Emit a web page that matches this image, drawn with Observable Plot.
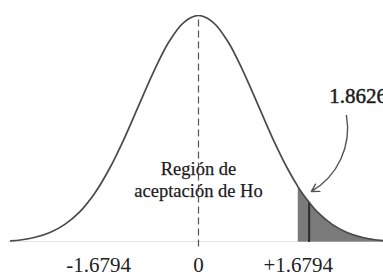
<!DOCTYPE html>
<html><head><meta charset="utf-8">
<script src="https://cdn.jsdelivr.net/npm/d3@7"></script>
<script src="https://cdn.jsdelivr.net/npm/@observablehq/plot@0.6"></script>
<style>body{margin:0;background:#fff}</style>
</head><body><div id="chart"></div>
<script>
// curve points (x in t units, relative height)
const curveX = [-3.16, -3.0, -2.75, -2.5, -2.25, -2.0, -1.75, -1.5, -1.25, -1.0, -0.75, -0.5, -0.25, 0, 0.25, 0.5, 0.75, 1.0, 1.25, 1.5, 1.6794, 1.75, 1.8626, 2.0, 2.25, 2.5, 2.75, 3.0, 3.25];
const curveY = [0.007, 0.011, 0.023, 0.044, 0.080, 0.135, 0.216, 0.325, 0.458, 0.607, 0.755, 0.883, 0.969, 1.0, 0.969, 0.883, 0.755, 0.607, 0.458, 0.325, 0.244, 0.216, 0.177, 0.135, 0.080, 0.044, 0.023, 0.011, 0.005];
const critical = 1.6794;
const statistic = 1.8626;
const tickValues = [-1.6794, 0, 1.6794];
const tickLabels = ["-1.6794", "0", "+1.6794"];
const regionLabel = "Región de\naceptación de Ho";
const statLabel = "1.8626";

const pts = curveX.map((x, i) => ({x, y: curveY[i]}));
const tail = pts.filter(d => d.x >= critical);
const statY = curveY[curveX.indexOf(statistic)];

const font = "'Liberation Serif', 'DejaVu Serif', serif";
const chart = Plot.plot({
  width: 383, height: 280,
  marginLeft: 0, marginRight: 0, marginTop: 15, marginBottom: 38,
  style: {fontFamily: font, background: "#fff", color: "#1a1a1a"},
  x: {domain: [-198/59.4, 185/59.4], label: null},
  y: {domain: [0, 1], axis: null},
  marks: [
    Plot.areaY(tail, {x: "x", y: "y", fill: "#7a7a7a", curve: "catmull-rom", clip: true}),
    Plot.ruleY([0], {x1: -3.2, x2: 3.2, stroke: "#c4c4c4", strokeWidth: 2, clip: true}),
    Plot.ruleX([statistic], {y1: 0, y2: statY, stroke: "#2b2b2b", strokeWidth: 2}),
    Plot.ruleX([0], {y1: -0.02, y2: 1, stroke: "#555", strokeWidth: 1.2, strokeDasharray: "7,4"}),
    Plot.line(pts, {x: "x", y: "y", stroke: "#4a4a4a", strokeWidth: 1.7, curve: "catmull-rom", clip: true}),
    Plot.axisX({ticks: tickValues, tickFormat: d => tickLabels[tickValues.indexOf(d)], tickSize: 0, tickPadding: 15, fontSize: 21, fill: "#222", stroke: "#444", strokeWidth: 0.5, label: null}),
    Plot.text([regionLabel], {x: 0, y: 0.28, fontSize: 18.5, lineHeight: 1.22, fill: "#1a1a1a", stroke: "#444", strokeWidth: 0.25}),
    Plot.text([statLabel], {x: 2.2, y: 0.645, textAnchor: "start", fontSize: 21, fill: "#1a1a1a", stroke: "#333", strokeWidth: 0.5, clip: true}),
    Plot.arrow([{}], {x1: 2.49, y1: 0.56, x2: 1.90, y2: 0.225, bend: 35, stroke: "#555", strokeWidth: 1.4, headLength: 9})
  ]
});
document.getElementById("chart").append(chart);
</script></body></html>
